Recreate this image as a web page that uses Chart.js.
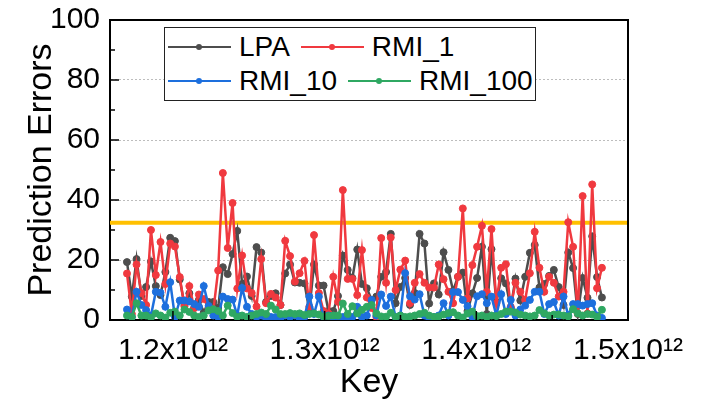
<!DOCTYPE html>
<html>
<head>
<meta charset="utf-8">
<script src="https://cdn.jsdelivr.net/npm/chart.js@4.4.1/dist/chart.umd.min.js"></script>
<style>
  html, body { margin: 0; padding: 0; background: #fff; }
  #wrap { position: relative; width: 714px; height: 405px; }
  #legend {
    position: absolute; left: 164px; top: 27px; width: 372px; height: 74px;
    box-sizing: border-box; border: 1px solid #222; background: #fff;
    padding: 2px 0 0 3px;
    font-family: "Liberation Sans", Arial, sans-serif; font-size: 28px; color: #000;
  }
  .row { display: flex; align-items: center; height: 34px; }
  .item { display: flex; align-items: center; margin-right: 11px; }
  .sample { position: relative; width: 63px; height: 10px; }
  .sample .ln { position: absolute; left: 0; right: 0; top: 4px; height: 2px; }
  .sample .dot { position: absolute; left: 28px; top: 2px; width: 6px; height: 6px; border-radius: 50%; }
  .txt { margin-left: 8px; line-height: 34px; white-space: nowrap; }
</style>
</head>
<body>
<div id="wrap">
  <canvas id="errChart" width="714" height="405"></canvas>
  <div id="legend"></div>
</div>
<script>
// keys in units of 10^12
const keys = [
  1.1697, 1.1729, 1.1760, 1.1792, 1.1823, 1.1855, 1.1887, 1.1918, 1.1950, 1.1982,
  1.2013, 1.2045, 1.2076, 1.2108, 1.2140, 1.2171, 1.2203, 1.2235, 1.2266, 1.2298,
  1.2329, 1.2361, 1.2393, 1.2424, 1.2456, 1.2488, 1.2519, 1.2551, 1.2582, 1.2614,
  1.2646, 1.2677, 1.2709, 1.2740, 1.2772, 1.2804, 1.2835, 1.2867, 1.2899, 1.2930,
  1.2962, 1.2993, 1.3025, 1.3057, 1.3088, 1.3120, 1.3152, 1.3183, 1.3215, 1.3246,
  1.3278, 1.3310, 1.3341, 1.3373, 1.3405, 1.3436, 1.3468, 1.3499, 1.3531, 1.3563,
  1.3594, 1.3626, 1.3658, 1.3689, 1.3721, 1.3752, 1.3784, 1.3816, 1.3847, 1.3879,
  1.3911, 1.3942, 1.3974, 1.4005, 1.4037, 1.4069, 1.4100, 1.4132, 1.4164, 1.4195,
  1.4227, 1.4258, 1.4290, 1.4322, 1.4353, 1.4385, 1.4416, 1.4448, 1.4480, 1.4511,
  1.4543, 1.4575, 1.4606, 1.4638, 1.4669, 1.4701, 1.4733, 1.4764, 1.4796, 1.4828
];

const lpa = [
  19.3, 7.8, 20.3, 8, 11, 19.5, 11.3, 8.3, 16, 27.4,
  26.3, 13.5, 5, 8.9, 4, 6.7, 2.5, 6, 6, 4,
  17.6, 15.3, 22, 29.7, 12, 14.5, 8, 24.3, 22.5, 6,
  8, 8.9, 5, 15.5, 18.5, 12.5, 12.4, 12.2, 3.3, 18.5,
  11.5, 11.5, 3, 3, 8, 21.5, 16.7, 14, 23.5, 12,
  10.6, 6.7, 7.8, 14.4, 16, 28.7, 5.6, 11, 14, 5,
  9, 28.7, 25.5, 5.5, 12.2, 8.5, 22.6, 16.7, 9.7, 14.4,
  15.8, 3, 8.9, 14, 24.4, 2, 23.6, 6, 13.9, 12.2,
  4, 13.8, 6.5, 14.4, 22.4, 25, 10.8, 12, 14.7, 16.7,
  11, 5, 22.5, 17.3, 2, 14, 7.4, 27.9, 14.3, 7.5
];

const rmi1 = [
  15.5, 2, 18.5, 9, 5, 30, 15, 26, 12, 25.5,
  24.5, 14.3, 4.5, 11.3, 4, 8.5, 7, 4, 3, 16.5,
  49, 24, 39, 10.5, 21.5, 10.5, 9, 4.5, 20.3, 5.6,
  8.7, 7.5, 5, 26.4, 21.3, 12.8, 15.6, 19.7, 4.4, 28.3,
  9, 3, 2.2, 14.4, 6.1, 43.3, 13.7, 13.7, 8.3, 23.3,
  7.5, 4, 1, 27.3, 12.4, 27.5, 10, 16.8, 19.8, 5.6,
  12.4, 15.3, 12.4, 10.8, 10.8, 18.5, 13.6, 9.4, 5.6, 14.4,
  37.2, 7.2, 18.3, 24.4, 31.4, 9.4, 30.3, 5.6, 17.4, 18.6,
  4.4, 12.4, 9.4, 6.7, 15.6, 29.4, 17.4, 9.4, 14.4, 12.4,
  7.8, 9.4, 32.6, 24.4, 2.2, 41.3, 2.2, 45.2, 10.6, 17.4
];

const rmi10 = [
  3.5, 1, 9.4, 5, 3.3, 1.5, 9.4, 9.1, 4.4, 12.6,
  1, 6.5, 6.5, 6.2, 5.3, 4.4, 11.3, 4.7, 1.5, 1,
  7.8, 7, 6.8, 1.5, 10.7, 4.4, 2, 1, 1.5, 0.5,
  1, 1, 0.5, 1.5, 1, 1.5, 0.5, 1, 7.8, 2,
  7.8, 1, 1.5, 0.5, 1, 1, 0.5, 1, 4.4, 1,
  1.5, 6.7, 1.5, 8.5, 4.7, 7.8, 1, 1.5, 15.6, 7.9,
  6.8, 8.6, 1.5, 0.5, 1, 1.5, 5.6, 1.5, 9.3, 9.3,
  6.7, 4.6, 1, 7.9, 8.6, 5.6, 7.8, 1.5, 8.6, 2,
  6.7, 1.5, 3.5, 4.8, 6.7, 9.4, 9.4, 2, 5.3, 6,
  1.5, 7.8, 1.5, 5.3, 5.3, 4.8, 5.3, 5.6, 1.5, 0.7
];

const rmi100 = [
  1.5, 1, 5.6, 1.5, 1.5, 0.8, 2.2, 1.5, 0.8, 2.4,
  2.8, 1.5, 3.5, 2.7, 1.5, 1, 1.5, 3.2, 3.6, 3,
  1.5, 4.8, 2.3, 1, 1.5, 1, 1.5, 2, 2.5, 2,
  4.8, 3.5, 2, 2, 2.3, 2, 2.2, 1.7, 2, 2.2,
  1.8, 1.2, 1.3, 1.5, 1.5, 5.5, 2, 4.6, 2.2, 3.4,
  4.4, 5, 2.2, 1.2, 1.1, 2.4, 1, 1.5, 1, 1.2,
  1.5, 2, 2.4, 1.5, 1, 1.2, 1.8, 2.3, 2.6, 1.5,
  0.8, 2.2, 2.8, 1.3, 1.5, 1, 1.5, 1.3, 2, 2.8,
  2.8, 2.5, 1.8, 1.5, 1.2, 1.5, 3.3, 2.2, 1.5, 1.8,
  1.8, 1.5, 1.2, 3.6, 2.2, 1.5, 2, 1.8, 1, 3.4
];

const threshold = 32.4;
const xMin = 1.1585;
const xMax = 1.5;
const xTicks = [1.2, 1.3, 1.4, 1.5];
const xMinorTicks = [1.25, 1.35, 1.45];
const yTicks = [0, 20, 40, 60, 80, 100];
const yMinorTicks = [10, 30, 50, 70, 90];

const FONT = '"Liberation Sans", Arial, sans-serif';

const series = [
    { label: 'LPA', data: lpa, color: '#4d4d4d', order: 4 },
    { label: 'RMI_1', data: rmi1, color: '#f0393f', order: 3 },
    { label: 'RMI_10', data: rmi10, color: '#1d6fdd', order: 2 },
    { label: 'RMI_100', data: rmi100, color: '#2fa862', order: 1 }
];

function toPoints(vals) {
    return vals.map((v, i) => ({ x: keys[i], y: v }));
}

// box around the plot and inward tick marks
const frameTicks = {
    id: 'frameTicks',
    afterDatasetsDraw(chart) {
        const { ctx, chartArea: a, scales: { x, y } } = chart;
        ctx.save();
        ctx.strokeStyle = '#000';
        ctx.lineWidth = 2;
        ctx.beginPath();
        ctx.moveTo(a.left, a.top);
        ctx.lineTo(a.right, a.top);
        ctx.lineTo(a.right, a.bottom);
        ctx.stroke();

        ctx.lineWidth = 1.5;
        ctx.beginPath();
        yTicks.forEach(v => {
            const p = y.getPixelForValue(v);
            ctx.moveTo(a.left, p); ctx.lineTo(a.left + 9, p);
        });
        yMinorTicks.forEach(v => {
            const p = y.getPixelForValue(v);
            ctx.moveTo(a.left, p); ctx.lineTo(a.left + 5, p);
        });
        xTicks.forEach(v => {
            const p = x.getPixelForValue(v);
            ctx.moveTo(p, a.bottom); ctx.lineTo(p, a.bottom - 9);
        });
        xMinorTicks.forEach(v => {
            const p = x.getPixelForValue(v);
            ctx.moveTo(p, a.bottom); ctx.lineTo(p, a.bottom - 5);
        });
        ctx.stroke();
        ctx.restore();
    }
};

const datasets = series.map(s => ({
    label: s.label,
    data: toPoints(s.data),
    borderColor: s.color,
    backgroundColor: s.color,
    pointBackgroundColor: s.color,
    pointBorderColor: s.color,
    borderWidth: 2.5,
    pointRadius: 3.5,
    pointBorderWidth: 1,
    tension: 0,
    fill: false,
    order: s.order
}));

datasets.push({
    label: 'threshold',
    data: [{ x: xMin, y: threshold }, { x: xMax, y: threshold }],
    borderColor: '#ffc000',
    borderWidth: 4,
    pointRadius: 0,
    fill: false,
    order: 5
});

const chart = new Chart(document.getElementById('errChart').getContext('2d'), {
    type: 'line',
    data: { datasets: datasets },
    options: {
        responsive: false,
        devicePixelRatio: 1,
        animation: false,
        layout: { padding: { left: 0, right: 86, top: 20, bottom: 0 } },
        plugins: {
            legend: { display: false },
            tooltip: { enabled: false }
        },
        scales: {
            x: {
                type: 'linear',
                min: xMin,
                max: xMax,
                afterBuildTicks: s => { s.ticks = xTicks.map(v => ({ value: v })); },
                afterFit: s => { s.height = 85; },
                ticks: {
                    color: '#000',
                    font: { family: FONT, size: 30 },
                    padding: 13,
                    maxRotation: 0,
                    autoSkip: false,
                    callback: v => v.toFixed(1) + 'x10\u00b9\u00b2'
                },
                grid: { display: false, drawTicks: false },
                border: { display: true, color: '#000', width: 2 },
                title: {
                    display: true,
                    text: 'Key',
                    color: '#000',
                    font: { family: FONT, size: 34 },
                    padding: { top: 0, bottom: 2 }
                }
            },
            y: {
                min: 0,
                max: 100,
                afterBuildTicks: s => { s.ticks = yTicks.map(v => ({ value: v })); },
                afterFit: s => { s.width = 110; },
                ticks: {
                    color: '#000',
                    font: { family: FONT, size: 30 },
                    padding: 0
                },
                grid: {
                    drawTicks: true,
                    tickLength: 10,
                    tickColor: 'rgba(0,0,0,0)',
                    lineWidth: 1,
                    color: c => (c.tick && (c.tick.value === 0 || c.tick.value === 100)) ? 'rgba(0,0,0,0)' : '#bdbdbd'
                },
                border: { display: true, color: '#000', width: 2, dash: [2, 2] },
                title: {
                    display: true,
                    text: 'Prediction Errors',
                    color: '#000',
                    font: { family: FONT, size: 34 },
                    padding: { top: 21, bottom: 0 }
                }
            }
        }
    },
    plugins: [frameTicks]
});

// legend: two entries per row, like the original
const legendEl = document.getElementById('legend');
let row = null;
series.forEach((s, i) => {
    if (i % 2 === 0) {
        row = document.createElement('div');
        row.className = 'row';
        legendEl.appendChild(row);
    }
    const item = document.createElement('div');
    item.className = 'item';
    item.innerHTML =
        '<span class="sample"><span class="ln" style="background:' + s.color + '"></span>' +
        '<span class="dot" style="background:' + s.color + '"></span></span>' +
        '<span class="txt">' + s.label + '</span>';
    row.appendChild(item);
});
</script>
</body>
</html>
